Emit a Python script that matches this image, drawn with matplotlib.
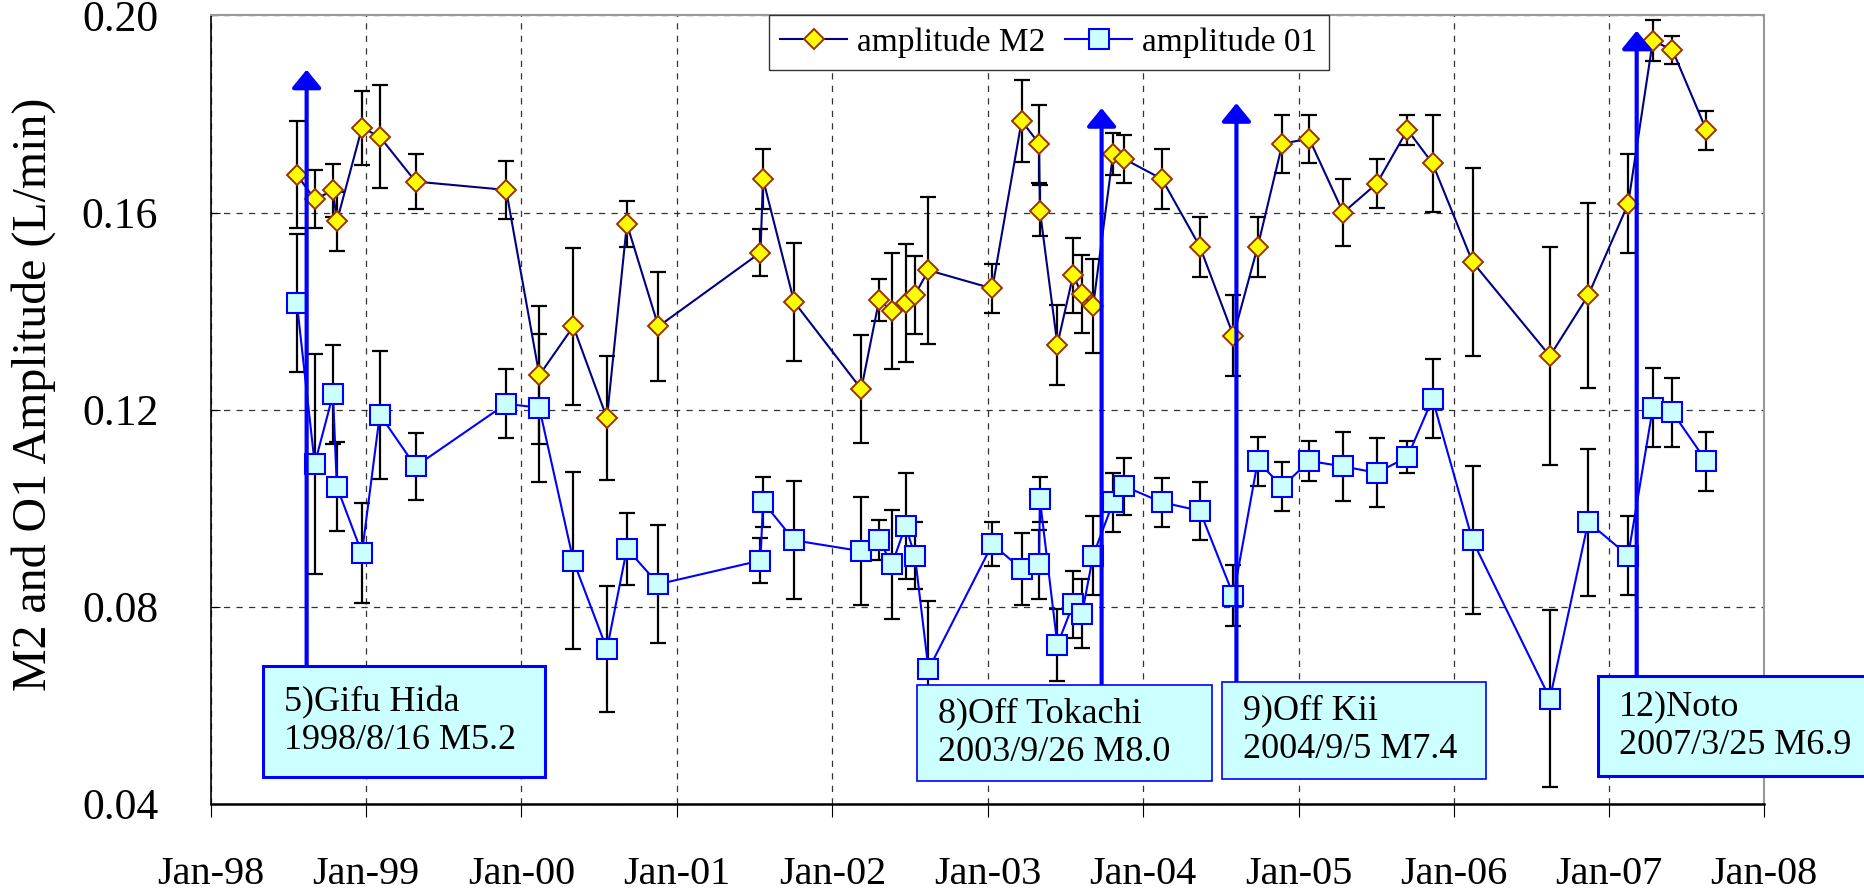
import matplotlib
matplotlib.use("Agg")
import matplotlib.pyplot as plt
import matplotlib.dates as mdates
from matplotlib.patches import Rectangle
import pandas as pd

plt.rcParams['font.family'] = 'serif'
plt.rcParams['font.serif'] = ['Liberation Serif', 'DejaVu Serif']

# observation dates (shared by both tidal constituents)
dates = pd.to_datetime([
    '1998-07-22', '1998-09-02', '1998-10-15', '1998-10-24', '1998-12-22',
    '1999-02-02', '1999-04-27', '1999-11-26', '2000-02-12', '2000-05-02',
    '2000-07-20', '2000-09-05', '2000-11-18', '2001-07-16', '2001-07-22',
    '2001-10-03', '2002-03-10', '2002-04-21', '2002-05-21', '2002-06-22',
    '2002-07-14', '2002-08-15', '2003-01-12', '2003-03-22', '2003-05-02',
    '2003-05-04', '2003-06-14', '2003-07-21', '2003-08-11', '2003-09-06',
    '2003-10-23', '2003-11-18', '2004-02-15', '2004-05-14', '2004-08-01',
    '2004-09-27', '2004-11-24', '2005-01-26', '2005-04-16', '2005-07-04',
    '2005-09-14', '2005-11-12', '2006-02-14', '2006-08-15', '2006-11-13',
    '2007-02-15', '2007-04-14', '2007-05-30', '2007-08-18',
])

m2_amp = [
    0.1677, 0.1627, 0.1645, 0.1582, 0.1772, 0.1754, 0.1663, 0.1646, 0.1270, 0.1369,
    0.1183, 0.1577, 0.1369, 0.1519, 0.1668, 0.1419, 0.1242, 0.1423, 0.1400, 0.1417,
    0.1433, 0.1483, 0.1446, 0.1786, 0.1740, 0.1604, 0.1332, 0.1473, 0.1434, 0.1410,
    0.1719, 0.1709, 0.1668, 0.1531, 0.1350, 0.1531, 0.1740, 0.1750, 0.1600, 0.1659,
    0.1768, 0.1700, 0.1500, 0.1309, 0.1432, 0.1618, 0.1949, 0.1930, 0.1767,
]
m2_err = [
    0.0108, 0.0059, 0.0054, 0.0059, 0.0075, 0.0104, 0.0056, 0.0058, 0.0140, 0.0160,
    0.0126, 0.0047, 0.0110, 0.0047, 0.0061, 0.0120, 0.0109, 0.0043, 0.0118, 0.0120,
    0.0079, 0.0149, 0.0050, 0.0083, 0.0079, 0.0052, 0.0081, 0.0076, 0.0079, 0.0095,
    0.0043, 0.0049, 0.0061, 0.0061, 0.0082, 0.0061, 0.0059, 0.0049, 0.0068, 0.0050,
    0.0030, 0.0099, 0.0190, 0.0222, 0.0188, 0.0100, 0.0041, 0.0029, 0.0039,
]

o1_amp = [
    0.1417, 0.1090, 0.1231, 0.1044, 0.0909, 0.1190, 0.1085, 0.1212, 0.1204, 0.0894,
    0.0714, 0.0918, 0.0846, 0.0894, 0.1013, 0.0935, 0.0913, 0.0936, 0.0886, 0.0964,
    0.0904, 0.0673, 0.0927, 0.0877, 0.0886, 0.1018, 0.0723, 0.0805, 0.0786, 0.0904,
    0.1012, 0.1045, 0.1012, 0.0995, 0.0823, 0.1095, 0.1044, 0.1096, 0.1085, 0.1072,
    0.1104, 0.1222, 0.0935, 0.0614, 0.0972, 0.0904, 0.1204, 0.1195, 0.1095,
]
o1_err = [
    0.0140, 0.0224, 0.0100, 0.0090, 0.0102, 0.0130, 0.0068, 0.0070, 0.0150, 0.0180,
    0.0128, 0.0073, 0.0120, 0.0046, 0.0050, 0.0120, 0.0110, 0.0040, 0.0110, 0.0108,
    0.0068, 0.0138, 0.0045, 0.0073, 0.0070, 0.0045, 0.0073, 0.0068, 0.0070, 0.0080,
    0.0060, 0.0058, 0.0050, 0.0059, 0.0062, 0.0050, 0.0050, 0.0040, 0.0070, 0.0070,
    0.0032, 0.0080, 0.0150, 0.0179, 0.0149, 0.0080, 0.0080, 0.0070, 0.0060,
]

# earthquakes marked with arrows
quake_dates = pd.to_datetime(['1998-08-14', '2003-09-26', '2004-08-08', '2007-03-07'])
quake_top = [0.1890, 0.1812, 0.1822, 0.1969]
quake_labels = [
    '5)Gifu Hida\n1998/8/16 M5.2',
    '8)Off Tokachi\n2003/9/26 M8.0',
    '9)Off Kii\n2004/9/5 M7.4',
    '12)Noto\n2007/3/25 M6.9',
]
# label boxes in axes fraction: x0, y0, width, height
quake_boxes = [
    (0.0333, 0.0337, 0.1817, 0.1416),
    (0.4543, 0.0287, 0.1903, 0.1222),
    (0.6507, 0.0321, 0.1699, 0.1221),
    (0.8927, 0.0359, 0.1800, 0.1259),
]
box_lw = [2.2, 1.2, 1.2, 2.2]

fig = plt.figure(figsize=(18.65, 8.94), dpi=100)
ax = fig.add_axes([0.1131, 0.1007, 0.8329, 0.8820])

# error bars
ax.errorbar(dates, m2_amp, yerr=m2_err, fmt='none', ecolor='black',
            elinewidth=1.6, capsize=5.5, capthick=1.6, zorder=2)
ax.errorbar(dates, o1_amp, yerr=o1_err, fmt='none', ecolor='black',
            elinewidth=1.6, capsize=5.5, capthick=1.6, zorder=2)

ax.plot(dates, m2_amp, color='#000080', lw=1.5, marker='D', ms=10.5,
        mfc='#FFFF00', mec='#993300', mew=1.4, label='amplitude M2', zorder=4)
ax.plot(dates, o1_amp, color='#0000FF', lw=1.5, marker='s', ms=14,
        mfc='#CCFFFF', mec='#0000FF', mew=1.5, label='amplitude 01', zorder=4)

# arrows and labels
for d, top, lab, box, blw in zip(quake_dates, quake_top, quake_labels, quake_boxes, box_lw):
    x0, y0, w, h = box
    ax.annotate('', xy=(d, top), xycoords='data',
                xytext=(d, y0 + h), textcoords=('data', 'axes fraction'),
                arrowprops=dict(arrowstyle='-|>,head_length=0.55,head_width=0.45',
                                mutation_scale=20, color='#0000FF', lw=3,
                                shrinkA=0, shrinkB=0),
                zorder=5)
    ax.add_patch(Rectangle((x0, y0), w, h, transform=ax.transAxes,
                           facecolor='#CCFFFF', edgecolor='#0000FF', lw=blw,
                           clip_on=False, zorder=6))
    ax.text(x0 + 0.0135, y0 + h / 2, lab, transform=ax.transAxes,
            ha='left', va='center', fontsize=26, linespacing=1.22,
            zorder=7, clip_on=False)

ax.set_xlim(pd.Timestamp('1998-01-01'), pd.Timestamp('2008-01-01'))
ax.set_ylim(0.04, 0.20)
ax.xaxis.set_major_locator(mdates.YearLocator())
ax.xaxis.set_major_formatter(mdates.DateFormatter('%b-%y'))
ax.set_yticks([0.04, 0.08, 0.12, 0.16, 0.20])
ax.yaxis.set_major_formatter(plt.FormatStrFormatter('%.2f'))

ax.tick_params(axis='x', direction='out', length=9.5, width=0.8,
               pad=28, labelsize=29)
ax.tick_params(axis='y', direction='in', length=6.5, width=0.8,
               pad=38, labelsize=31.5)

ax.grid(True, color='#333333', linestyle=(0, (5, 5)), lw=0.9)
ax.set_axisbelow(True)

for side in ['top', 'right']:
    ax.spines[side].set_color('#999999')
    ax.spines[side].set_linewidth(1.5)
ax.spines['left'].set_linewidth(1.2)
ax.spines['bottom'].set_linewidth(1.8)

ax.set_ylabel('M2 and O1 Amplitude (L/min)', fontsize=34.5)
ax.yaxis.set_label_coords(-0.100, 0.52)

leg = ax.legend(loc='upper center', bbox_to_anchor=(0.5394, 1.0), ncol=2,
                fontsize=24, frameon=True, fancybox=False, framealpha=1,
                edgecolor='#333333', borderaxespad=0, handlelength=2.0,
                handletextpad=0.3, columnspacing=0.6, borderpad=0.35)
leg.get_frame().set_linewidth(1.0)
leg.set_zorder(8)

fig.savefig('out.png', dpi=100)
